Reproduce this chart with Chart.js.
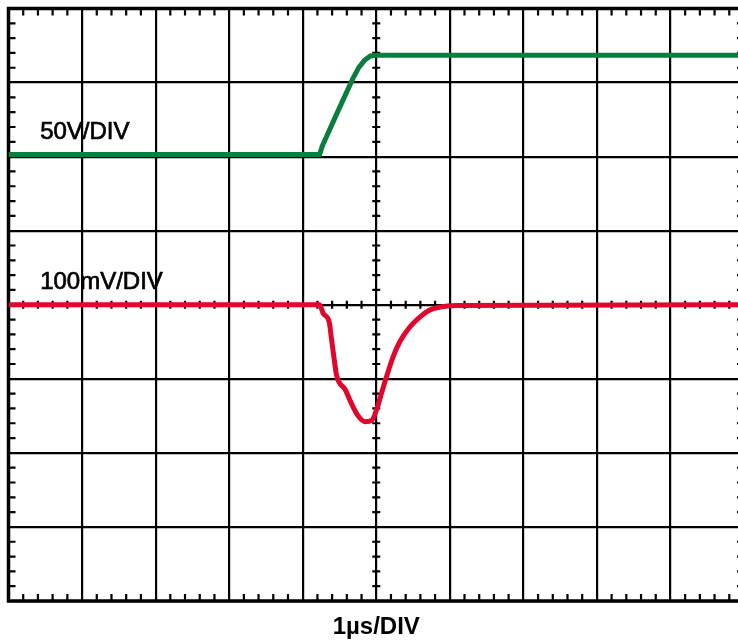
<!DOCTYPE html>
<html>
<head>
<meta charset="utf-8">
<script src="https://cdn.jsdelivr.net/npm/chart.js@4.4.1/dist/chart.umd.min.js"></script>
<style>
  html, body { margin: 0; padding: 0; background: #fff; overflow: hidden; }
  #wrap { position: relative; width: 750px; height: 643px; }
</style>
</head>
<body>
<div id="wrap"><canvas id="myChart"></canvas></div>
<script>
// time in divisions (1us/DIV), screen level in divisions (0 = bottom, 8 = top)
const greenX = [0, 4.23, 4.27, 4.45, 4.68, 4.76, 4.84, 4.92, 5.0, 10];
const greenY = [6.03, 6.03, 6.15, 6.55, 7.05, 7.20, 7.30, 7.36, 7.37, 7.37];

const redX = [0, 4.23, 4.28, 4.36, 4.39, 4.43, 4.46, 4.58, 4.67, 4.76, 4.85, 4.94, 5.01, 5.07, 5.14, 5.23, 5.32, 5.44, 5.60, 5.71, 5.87, 6.09, 10];
const redY = [4.0, 4.0, 3.88, 3.77, 3.55, 3.25, 3.05, 2.85, 2.65, 2.49, 2.42, 2.44, 2.60, 2.80, 3.03, 3.30, 3.50, 3.68, 3.84, 3.92, 3.97, 3.99, 4.0];

const xDivs = 10;
const yDivs = 8;

const toPts = (xs, ys) => xs.map((x, i) => ({ x: x, y: ys[i] }));

// frame, minor ticks, channel labels
const scopePlugin = {
    id: 'scope',
    beforeDatasetsDraw(chart) {
        const { ctx, chartArea: a, scales: { x, y } } = chart;
        ctx.save();
        ctx.strokeStyle = '#000';
        ctx.lineWidth = 2.2;
        ctx.beginPath();
        for (let i = 1; i < xDivs * 5; i++) {
            if (i % 5 === 0) continue;
            const px = x.getPixelForValue(i / 5);
            ctx.moveTo(px, a.top); ctx.lineTo(px, a.top + 7);
            ctx.moveTo(px, a.bottom); ctx.lineTo(px, a.bottom - 7);
            const cy = y.getPixelForValue(yDivs / 2);
            ctx.moveTo(px, cy - 4); ctx.lineTo(px, cy + 4);
        }
        for (let i = 1; i < yDivs * 5; i++) {
            if (i % 5 === 0) continue;
            const py = y.getPixelForValue(i / 5);
            ctx.moveTo(a.left, py); ctx.lineTo(a.left + 7, py);
            ctx.moveTo(a.right, py); ctx.lineTo(a.right - 7, py);
            const cx = x.getPixelForValue(xDivs / 2);
            ctx.moveTo(cx - 4, py); ctx.lineTo(cx + 4, py);
        }
        ctx.stroke();
        ctx.lineWidth = 3.5;
        ctx.strokeRect(a.left, a.top, a.right - a.left, a.bottom - a.top);

        ctx.fillStyle = '#000';
        ctx.strokeStyle = '#000';
        ctx.lineWidth = 0.7;
        ctx.font = '24px "Liberation Sans", Arial, sans-serif';
        ctx.textBaseline = 'alphabetic';
        const labels = [['50V/DIV', 6.24], ['100mV/DIV', 4.21]];
        labels.forEach(([t, v]) => {
            const lx = x.getPixelForValue(0.43), ly = y.getPixelForValue(v);
            ctx.fillText(t, lx, ly);
            ctx.strokeText(t, lx, ly);
        });
        ctx.restore();
    }
};

const ctx = document.getElementById('myChart').getContext('2d');
const myChart = new Chart(ctx, {
    type: 'line',
    data: {
        datasets: [
            {
                label: '50V/DIV',
                data: toPts(greenX, greenY),
                borderColor: '#0b7d3e',
                borderWidth: 5,
                pointRadius: 0,
                tension: 0
            },
            {
                label: '100mV/DIV',
                data: toPts(redX, redY),
                borderColor: '#e1062d',
                borderWidth: 5,
                pointRadius: 0,
                cubicInterpolationMode: 'monotone'
            }
        ]
    },
    options: {
        responsive: true,
        maintainAspectRatio: false,
        animation: false,
        layout: { padding: { left: 8.5, top: 8.5, right: 6, bottom: 0 } },
        plugins: { legend: { display: false }, tooltip: { enabled: false } },
        scales: {
            x: {
                type: 'linear',
                min: 0,
                max: xDivs,
                ticks: { display: false, stepSize: 1 },
                grid: { color: '#000', lineWidth: 2.2, drawTicks: false },
                border: { display: false },
                title: {
                    display: true,
                    text: '1µs/DIV',
                    color: '#000',
                    font: { family: '"Liberation Sans", Arial, sans-serif', size: 24, weight: 'bold' },
                    padding: { top: 12.2, bottom: 1 }
                }
            },
            y: {
                min: 0,
                max: yDivs,
                ticks: { display: false, stepSize: 1 },
                grid: { color: '#000', lineWidth: 2.2, drawTicks: false },
                border: { display: false }
            }
        }
    },
    plugins: [scopePlugin]
});
</script>
</body>
</html>
